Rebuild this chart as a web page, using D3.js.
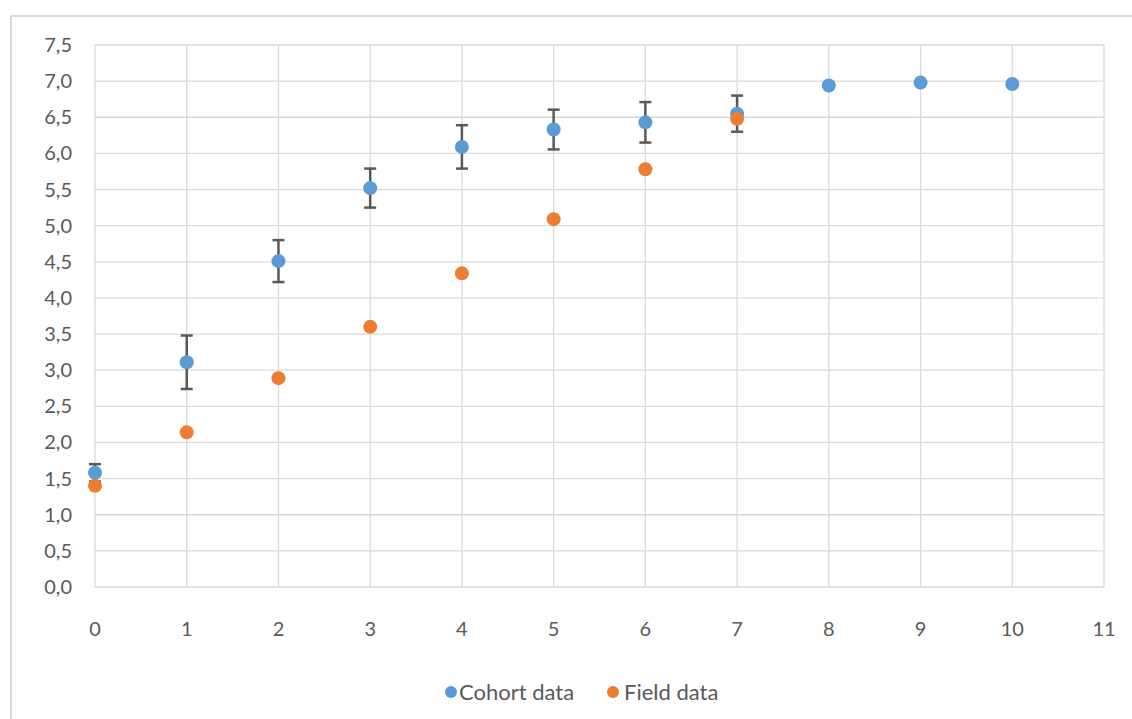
<!DOCTYPE html>
<html>
<head>
<meta charset="utf-8">
<script src="https://d3js.org/d3.v7.min.js"></script>
<style>
  body { margin: 0; background: #fff; }
  text { font-family: Lato, "Noto Sans", sans-serif; fill: #595959; }
</style>
</head>
<body>
<div id="chart"></div>
<script>
var width = 1132,
    height = 719,
    margin = {top: 45, right: 28, bottom: 132, left: 95};

// cohort series (blue) with symmetric error
var cohortX = [0, 1, 2, 3, 4, 5, 6, 7, 8, 9, 10];
var cohortY = [1.58, 3.11, 4.51, 5.52, 6.09, 6.33, 6.43, 6.55, 6.94, 6.98, 6.96];
var cohortErr = [0.12, 0.37, 0.29, 0.27, 0.30, 0.275, 0.28, 0.25, null, null, null];

// field series (orange)
var fieldX = [0, 1, 2, 3, 4, 5, 6, 7];
var fieldY = [1.40, 2.14, 2.89, 3.60, 4.34, 5.09, 5.78, 6.48];

var xTicks = d3.range(0, 12);
var yTicks = d3.range(0, 7.51, 0.5);
var legendNames = ["Cohort data", "Field data"];
var colors = ["#5b9bd5", "#ed7d31"];

var svg = d3.select("#chart").append("svg")
  .attr("width", width)
  .attr("height", height);

// outer chart frame (only top and left edges are visible in the crop)
svg.append("line").attr("x1", 11).attr("x2", width).attr("y1", 16).attr("y2", 16)
  .style("stroke", "#d9d9d9").style("stroke-width", 2);
svg.append("line").attr("x1", 11).attr("x2", 11).attr("y1", 16).attr("y2", height)
  .style("stroke", "#d9d9d9").style("stroke-width", 2);

var x = d3.scaleLinear().domain([0, 11]).range([margin.left, width - margin.right]);
var y = d3.scaleLinear().domain([0, 7.5]).range([height - margin.bottom, margin.top]);

//gridlines
svg.append("g").selectAll("line").data(yTicks).enter().append("line")
  .attr("x1", x(0)).attr("x2", x(11))
  .attr("y1", d => y(d)).attr("y2", d => y(d))
  .style("stroke", "#d9d9d9").style("stroke-width", 1.3);
svg.append("g").selectAll("line").data(xTicks).enter().append("line")
  .attr("x1", d => x(d)).attr("x2", d => x(d))
  .attr("y1", y(0)).attr("y2", y(7.5))
  .style("stroke", "#d9d9d9").style("stroke-width", 1.3);

// tick labels
svg.append("g").selectAll("text").data(yTicks).enter().append("text")
  .attr("x", 72).attr("y", d => y(d)).attr("dy", "0.35em")
  .style("text-anchor", "end").style("font-size", "20px")
  .text(d => d3.format(".1f")(d).replace(".", ","));
svg.append("g").selectAll("text").data(xTicks).enter().append("text")
  .attr("x", d => x(d)).attr("y", y(0) + 49)
  .style("text-anchor", "middle").style("font-size", "20px")
  .text(d => d);

// error bars
var errData = cohortX.map((d, i) => ({x: d, y: cohortY[i], e: cohortErr[i]})).filter(d => d.e != null);
var eb = svg.append("g").style("stroke", "#595959").style("stroke-width", 2.5);
errData.forEach(function(d) {
  eb.append("line").attr("x1", x(d.x)).attr("x2", x(d.x))
    .attr("y1", y(d.y - d.e)).attr("y2", y(d.y + d.e));
  [d.y - d.e, d.y + d.e].forEach(function(v) {
    eb.append("line").attr("x1", x(d.x) - 6).attr("x2", x(d.x) + 6)
      .attr("y1", y(v)).attr("y2", y(v));
  });
});

// points
svg.append("g").selectAll("circle").data(cohortX).enter().append("circle")
  .attr("cx", d => x(d)).attr("cy", (d, i) => y(cohortY[i]))
  .attr("r", 7).attr("fill", colors[0]);
svg.append("g").selectAll("circle").data(fieldX).enter().append("circle")
  .attr("cx", d => x(d)).attr("cy", (d, i) => y(fieldY[i]))
  .attr("r", 7).attr("fill", colors[1]);

// legend
var legX = [451, 613];
var leg = svg.append("g").selectAll("g").data(legendNames).enter().append("g")
  .attr("transform", (d, i) => "translate(" + legX[i] + ",692)");
leg.append("circle").attr("r", 6).attr("fill", (d, i) => colors[i]);
leg.append("text").attr("x", (d, i) => i ? 11 : 8).attr("dy", "0.35em")
  .style("font-size", "22px").text(d => d);
</script>
</body>
</html>
